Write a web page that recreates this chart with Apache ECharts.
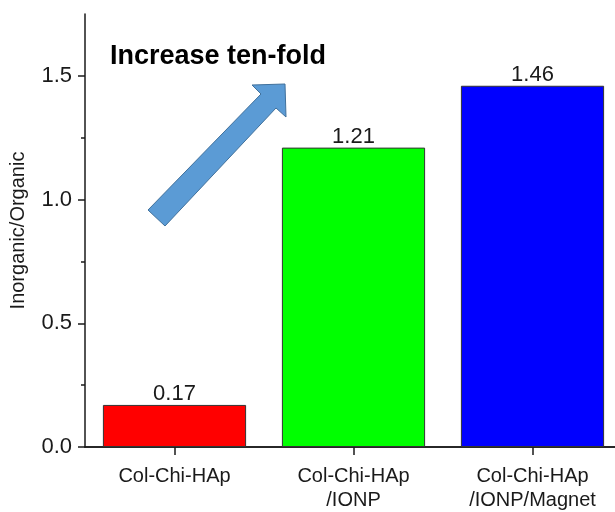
<!DOCTYPE html>
<html>
<head>
<meta charset="utf-8">
<script src="https://cdn.jsdelivr.net/npm/echarts@6/dist/echarts.min.js"></script>
<style>
  html, body { margin: 0; padding: 0; background: #fff; }
  #chart { width: 615px; height: 512px; }
</style>
</head>
<body>
<div id="chart"></div>
<script>
// Inorganic-to-organic mass ratio for each scaffold
const categories = ['Col-Chi-HAp', 'Col-Chi-HAp\n/IONP', 'Col-Chi-HAp\n/IONP/Magnet'];
const ratios = [0.17, 1.21, 1.46];
const barColors = ['#ff0000', '#00ff00', '#0000ff'];
const majorTicks = [0, 0.5, 1.0, 1.5];
const minorTicks = [0.25, 0.75, 1.25];

const FONT = 'Liberation Sans, Arial, sans-serif';
const INK = '#1a1a1a';

const chart = echarts.init(document.getElementById('chart'), null, { renderer: 'canvas' });

chart.setOption({
  animation: false,
  backgroundColor: '#ffffff',
  textStyle: { fontFamily: FONT },
  // plot frame runs a little past the right edge of the page
  grid: {
    left: 85, top: 14, width: 537, height: 433,
    containLabel: false, outerBoundsMode: 'none'
  },
  xAxis: [
    {
      type: 'category',
      data: categories,
      position: 'bottom',
      axisLine: { show: true, lineStyle: { color: INK, width: 1.5 } },
      axisTick: { show: true, alignWithLabel: true, length: 8, lineStyle: { color: INK, width: 1.5 } },
      axisLabel: { color: INK, fontSize: 20, lineHeight: 24, margin: 17, fontFamily: FONT, interval: 0 },
      splitLine: { show: false }
    },
    {
      type: 'category',
      data: categories,
      position: 'top',
      axisLine: { show: true, lineStyle: { color: INK, width: 1.5 } },
      axisTick: { show: false },
      axisLabel: { show: false },
      splitLine: { show: false }
    }
  ],
  yAxis: [
    {
      type: 'value',
      min: 0,
      max: 1.75,
      interval: 0.25,
      position: 'left',
      name: 'Inorganic/Organic',
      nameLocation: 'middle',
      nameGap: 57,
      nameTextStyle: { color: INK, fontSize: 20, fontFamily: FONT },
      axisLine: { show: true, lineStyle: { color: INK, width: 1.5 } },
      axisTick: { show: true, length: 7, customValues: majorTicks, lineStyle: { color: INK, width: 1.5 } },
      axisLabel: {
        color: INK, fontSize: 22, margin: 13, fontFamily: FONT,
        customValues: majorTicks,
        formatter: v => v.toFixed(1)
      },
      splitLine: { show: false }
    },
    {
      type: 'value',
      min: 0,
      max: 1.75,
      interval: 0.25,
      position: 'left',
      axisLine: { show: false },
      axisTick: { show: true, length: 4, customValues: minorTicks, lineStyle: { color: INK, width: 1.5 } },
      axisLabel: { show: false },
      splitLine: { show: false }
    }
  ],
  series: [
    {
      type: 'bar',
      data: ratios.map((v, i) => ({ value: v, itemStyle: { color: barColors[i] } })),
      barWidth: '80%',
      itemStyle: { borderColor: '#333333', borderWidth: 1 },
      label: {
        show: true,
        position: 'top',
        distance: 0,
        color: INK,
        fontSize: 22,
        fontFamily: FONT,
        formatter: p => p.value.toFixed(2)
      }
    }
  ],
  graphic: [
    {
      type: 'text',
      left: 110,
      top: 43,
      style: {
        text: 'Increase ten-fold',
        fill: '#000',
        font: 'bold 27px ' + FONT
      }
    },
    {
      type: 'polygon',
      shape: {
        points: [
          [148, 210], [261, 94], [252, 85], [285, 84],
          [286, 117], [276, 108], [165, 226]
        ]
      },
      style: { fill: '#5b9bd5', stroke: '#41719c', lineWidth: 1 }
    }
  ]
});
</script>
</body>
</html>
